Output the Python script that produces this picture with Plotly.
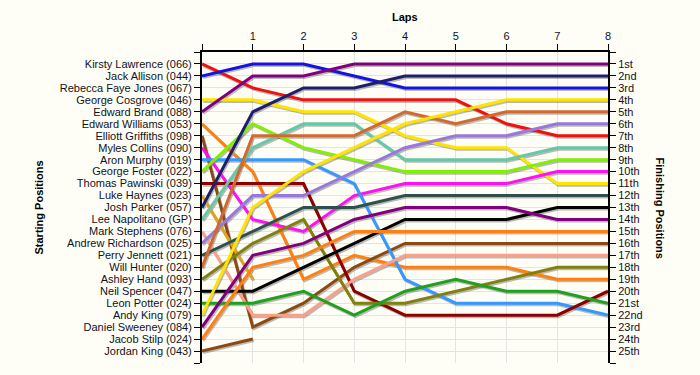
import plotly.graph_objects as go

laps = [0, 1, 2, 3, 4, 5, 6, 7, 8]
lap_labels = ["", "1", "2", "3", "4", "5", "6", "7", "8"]

starting_names = [
    "Kirsty Lawrence (066)", "Jack Allison (044)", "Rebecca Faye Jones (067)",
    "George Cosgrove (046)", "Edward Brand (088)", "Edward Williams (053)",
    "Elliott Griffiths (098)", "Myles Collins (090)", "Aron Murphy (019)",
    "George Foster (022)", "Thomas Pawinski (039)", "Luke Haynes (023)",
    "Josh Parker (057)", "Lee Napolitano (GP)", "Mark Stephens (076)",
    "Andrew Richardson (025)", "Perry Jennett (021)", "Will Hunter (020)",
    "Ashley Hand (093)", "Neil Spencer (047)", "Leon Potter (024)",
    "Andy King (079)", "Daniel Sweeney (084)", "Jacob Stilp (024)",
    "Jordan King (043)",
]

finishing_labels = [
    "1st", "2nd", "3rd", "4th", "5th", "6th", "7th", "8th", "9th", "10th",
    "11th", "12th", "13th", "14th", "15th", "16th", "17th", "18th", "19th",
    "20th", "21st", "22nd", "23rd", "24th", "25th",
]

N = None
kirsty_lawrence = [1, 3, 4, 4, 4, 4, 6, 7, 7]
jack_allison = [2, 1, 1, 2, 3, 3, 3, 3, 3]
rebecca_faye_jones = [N, N, N, N, N, N, N, N, N]
george_cosgrove = [4, 4, 5, 5, 7, 8, 8, 11, 11]
edward_brand = [5, 2, 2, 1, 1, 1, 1, 1, 1]
edward_williams = [6, 10, 19, 17, 18, 18, 18, 19, 19]
elliott_griffiths = [7, 23, 21, 18, 16, 16, 16, 16, 16]
myles_collins = [8, 14, 15, 12, 11, 11, 11, 10, 10]
aron_murphy = [9, 9, 9, 11, 19, 21, 21, 21, 22]
george_foster = [10, 6, 8, 9, 10, 10, 10, 9, 9]
thomas_pawinski = [11, 11, 11, 20, 22, 22, 22, 22, 20]
luke_haynes = [12, 19, N, N, N, N, N, N, N]
josh_parker = [13, 5, 3, 3, 2, 2, 2, 2, 2]
lee_napolitano = [14, 8, 6, 6, 9, 9, 9, 8, 8]
mark_stephens = [15, 22, 22, 19, 17, 17, 17, 17, 17]
andrew_richardson = [16, 12, 12, 10, 8, 7, 7, 6, 6]
perry_jennett = [17, 15, 13, 13, 12, 12, 12, 12, 12]
will_hunter = [18, 7, 7, 7, 5, 6, 5, 5, 5]
ashley_hand = [19, 16, 14, 21, 21, 20, 19, 18, 18]
neil_spencer = [20, 20, 18, 16, 14, 14, 14, 13, 13]
leon_potter = [21, 21, 20, 22, 20, 19, 20, 20, 21]
andy_king = [22, 13, 10, 8, 6, 5, 4, 4, 4]
daniel_sweeney = [23, 17, 16, 14, 13, 13, 13, 14, 14]
jacob_stilp = [24, 18, 17, 15, 15, 15, 15, 15, 15]
jordan_king = [25, 24, N, N, N, N, N, N, N]

series = [
    kirsty_lawrence, jack_allison, rebecca_faye_jones, george_cosgrove,
    edward_brand, edward_williams, elliott_griffiths, myles_collins,
    aron_murphy, george_foster, thomas_pawinski, luke_haynes, josh_parker,
    lee_napolitano, mark_stephens, andrew_richardson, perry_jennett,
    will_hunter, ashley_hand, neil_spencer, leon_potter, andy_king,
    daniel_sweeney, jacob_stilp, jordan_king,
]

colors = [
    "#F01010", "#1414E0", "#999999", "#FFE400", "#800080", "#FF8010",
    "#8B4A14", "#FF10F0", "#3399FF", "#80F000", "#8B0000", "#DAA520",
    "#1E1E6E", "#66C8A8", "#F8A088", "#9878DC", "#2F4F4F", "#D06A30",
    "#808010", "#000000", "#20A020", "#FFE400", "#800080", "#FF8010",
    "#8B4A14",
]

BG = "#FEFEF6"
fig = go.Figure()

# drop shadows
for ys in series:
    fig.add_trace(go.Scatter(
        x=[l + 0.022 for l in laps],
        y=[None if v is None else v + 0.13 for v in ys],
        mode="lines", line=dict(color="rgba(60,60,60,0.35)", width=3),
        hoverinfo="skip", showlegend=False))

for name, ys, c in zip(starting_names, series, colors):
    fig.add_trace(go.Scatter(
        x=laps, y=ys, mode="lines", name=name,
        line=dict(color=c, width=3), showlegend=False))

# anchor trace for right axis
fig.add_trace(go.Scatter(x=[0], y=[1], yaxis="y2", mode="markers",
                         marker=dict(opacity=0), hoverinfo="skip",
                         showlegend=False))

font_fam = "Liberation Sans, Arial, sans-serif"
pos_ticks = list(range(0, 27))

L, R, T, B = 202, 92, 52, 12
pw = 700 - L - R
ph = 375 - T - B

fig.update_layout(
    width=700, height=375,
    margin=dict(l=L, r=R, t=T, b=B, autoexpand=False),
    paper_bgcolor=BG, plot_bgcolor=BG,
    font=dict(family=font_fam, size=11, color="#111122"),
    xaxis=dict(
        side="top", range=[0, 8], tickvals=laps, ticktext=lap_labels,
        showline=True, linecolor="black", linewidth=2,
        ticks="outside", ticklen=6, tickcolor="black",
        showgrid=True, gridcolor="#E4E4E4", gridwidth=1,
        zeroline=False, automargin=False, tickfont=dict(size=11)),
    yaxis=dict(
        range=[26, 0], tickvals=pos_ticks,
        ticktext=[""] + starting_names + [""],
        showline=True, linecolor="black", linewidth=2,
        ticks="outside", ticklen=6, tickcolor="black",
        showgrid=True, gridcolor="#E4E4E4", gridwidth=1,
        zeroline=False, automargin=False, tickfont=dict(size=11)),
    yaxis2=dict(
        overlaying="y", side="right", range=[26, 0], tickvals=pos_ticks,
        ticktext=[""] + finishing_labels + [""],
        showline=True, linecolor="black", linewidth=2,
        ticks="outside", ticklen=6, tickcolor="black",
        showgrid=False, zeroline=False, automargin=False,
        tickfont=dict(size=11)),
    annotations=[
        dict(text="<b>Laps</b>", x=0.5, y=(375 - B - 17) / ph,
             xref="paper", yref="paper", yanchor="middle", showarrow=False,
             font=dict(size=11, color="black")),
        dict(text="<b>Starting Positions</b>", x=(30 - L) / pw, y=0.5,
             xref="paper", yref="paper", textangle=-90, showarrow=False,
             font=dict(size=11, color="black")),
        dict(text="<b>Finishing Positions</b>", x=(668 - L) / pw, y=0.5,
             xref="paper", yref="paper", textangle=90, showarrow=False,
             font=dict(size=11, color="black")),
    ],
)

fig.write_html(
    "out.html",
    config={"displayModeBar": False},
    post_script="document.body.style.margin='0px';"
                "document.body.style.background='" + BG + "';",
)
